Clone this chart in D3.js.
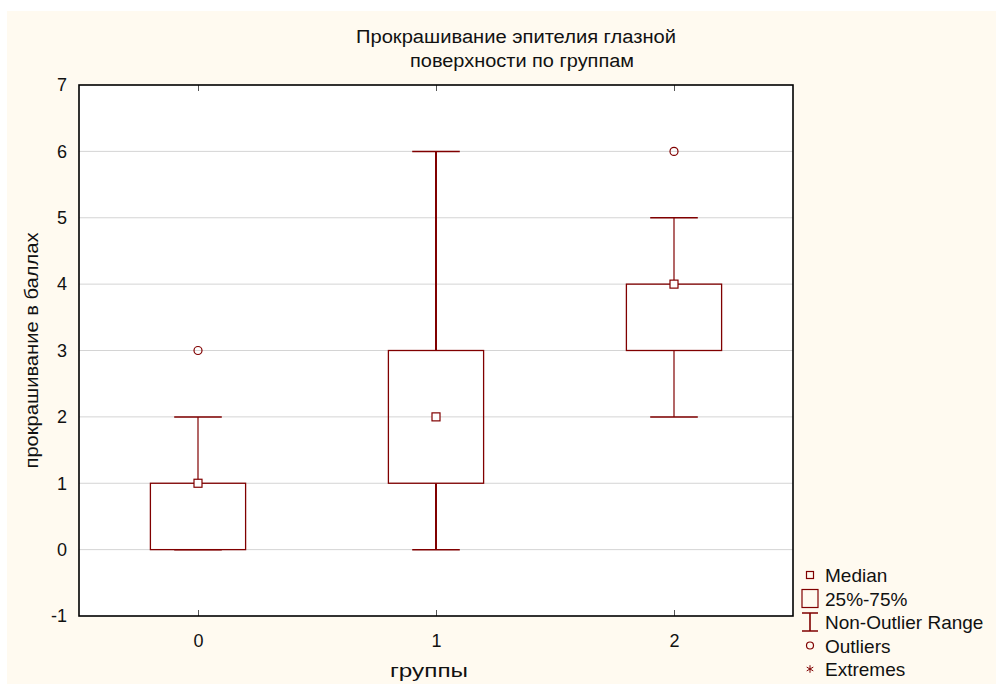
<!DOCTYPE html>
<html>
<head>
<meta charset="utf-8">
<script src="https://cdn.jsdelivr.net/npm/d3@7"></script>
<style>
	body { margin: 0; background: #fff; }
	text { font-family: "Liberation Sans", Arial, sans-serif; fill: #111; }
	.title { font-size: 18px; }
</style>
</head>
<body>
<svg id="chart" width="996" height="684"></svg>
<script>
const groups = [0, 1, 2];
const q1 = [0, 1, 3];
const medians = [1, 2, 4];
const q3 = [1, 3, 4];
const whiskerLow = [0, 0, 2];
const whiskerHigh = [2, 6, 5];
const outliers = [[3], [], [6]];
const yTicks = [-1, 0, 1, 2, 3, 4, 5, 6, 7];
const legendItems = ["Median", "25%-75%", "Non-Outlier Range", "Outliers", "Extremes"];

const color = "#800000";
const svg = d3.select("#chart");
const margin = { left: 79, top: 85, right: 203, bottom: 68 };
const width = 996 - margin.left - margin.right;
const height = 684 - margin.top - margin.bottom;

svg.append("rect")
	.attr("x", 7).attr("y", 11)
	.attr("width", 989).attr("height", 673)
	.attr("fill", "#fffaf0");

const x = d3.scaleLinear().domain([-0.5, 2.5]).range([margin.left, margin.left + width]);
const y = d3.scaleLinear().domain([-1, 7]).range([margin.top + height, margin.top]);

svg.append("rect")
	.attr("x", margin.left).attr("y", margin.top)
	.attr("width", width).attr("height", height)
	.attr("fill", "#fff");

// gridlines
svg.append("g")
	.selectAll("line")
	.data(yTicks.slice(1, -1))
	.join("line")
	.attr("x1", margin.left).attr("x2", margin.left + width)
	.attr("y1", d => y(d)).attr("y2", d => y(d))
	.attr("stroke", "#d4d4d4")
	.attr("stroke-width", 1);

// y axis labels
const yAxis = d3.axisLeft(y).tickValues(yTicks).tickSize(0).tickPadding(12).tickFormat(d => String(d));
svg.append("g")
	.attr("transform", `translate(${margin.left},0)`)
	.call(yAxis)
	.call(g => g.select(".domain").remove())
	.selectAll("text")
	.style("font-size", "18px")
	.style("font-family", "'Liberation Sans', Arial, sans-serif")
	.attr("fill", "#111");

// x axis
const xAxis = d3.axisBottom(x).tickValues(groups).tickSize(-6).tickPadding(18).tickFormat(d => String(d));
svg.append("g")
	.attr("transform", `translate(0,${margin.top + height})`)
	.call(xAxis)
	.call(g => g.select(".domain").remove())
	.call(g => g.selectAll("line").attr("stroke", "#555"))
	.selectAll("text")
	.style("font-size", "18px")
	.style("font-family", "'Liberation Sans', Arial, sans-serif")
	.attr("fill", "#111");

svg.append("g")
	.attr("transform", `translate(0,${margin.top})`)
	.call(d3.axisTop(x).tickValues(groups).tickSize(-6).tickFormat(""))
	.call(g => g.select(".domain").remove())
	.call(g => g.selectAll("line").attr("stroke", "#555"));

// boxes
const boxW = 0.4;
const capW = 0.2;
const box = svg.append("g")
	.selectAll("g")
	.data(groups)
	.join("g");

box.append("line")
	.attr("x1", d => x(d)).attr("x2", d => x(d))
	.attr("y1", (d, i) => y(whiskerHigh[i])).attr("y2", (d, i) => y(q3[i]))
	.attr("stroke", color).attr("stroke-width", (d, i) => i === 1 ? 2 : 1.2);
box.append("line")
	.attr("x1", d => x(d)).attr("x2", d => x(d))
	.attr("y1", (d, i) => y(q1[i])).attr("y2", (d, i) => y(whiskerLow[i]))
	.attr("stroke", color).attr("stroke-width", (d, i) => i === 1 ? 2 : 1.2);
box.append("line")
	.attr("x1", d => x(d - capW / 2)).attr("x2", d => x(d + capW / 2))
	.attr("y1", (d, i) => y(whiskerHigh[i])).attr("y2", (d, i) => y(whiskerHigh[i]))
	.attr("stroke", color).attr("stroke-width", 1.5);
box.append("line")
	.attr("x1", d => x(d - capW / 2)).attr("x2", d => x(d + capW / 2))
	.attr("y1", (d, i) => y(whiskerLow[i])).attr("y2", (d, i) => y(whiskerLow[i]))
	.attr("stroke", color).attr("stroke-width", 1.5);
box.append("rect")
	.attr("x", d => x(d - boxW / 2))
	.attr("width", x(boxW) - x(0))
	.attr("y", (d, i) => y(q3[i]))
	.attr("height", (d, i) => y(q1[i]) - y(q3[i]))
	.attr("fill", "none")
	.attr("stroke", color).attr("stroke-width", 1.3);
box.append("rect")
	.attr("x", d => x(d) - 4)
	.attr("y", (d, i) => y(medians[i]) - 4)
	.attr("width", 8).attr("height", 8)
	.attr("fill", "#fff")
	.attr("stroke", color).attr("stroke-width", 1.2);
box.selectAll("circle")
	.data((d, i) => outliers[i].map(v => ({ g: d, v })))
	.join("circle")
	.attr("cx", d => x(d.g))
	.attr("cy", d => y(d.v))
	.attr("r", 4)
	.attr("fill", "none")
	.attr("stroke", color).attr("stroke-width", 1.2);

// frame
svg.append("rect")
	.attr("x", margin.left).attr("y", margin.top)
	.attr("width", width).attr("height", height)
	.attr("fill", "none")
	.attr("stroke", "#000").attr("stroke-width", 1.6);

// titles
svg.append("text").attr("class", "title")
	.attr("x", 356).attr("y", 43)
	.attr("textLength", 320).attr("lengthAdjust", "spacingAndGlyphs")
	.text("Прокрашивание эпителия глазной");
svg.append("text").attr("class", "title")
	.attr("x", 410).attr("y", 67)
	.attr("textLength", 224).attr("lengthAdjust", "spacingAndGlyphs")
	.text("поверхности по группам");

svg.append("text")
	.attr("x", 390).attr("y", 677)
	.attr("textLength", 78).attr("lengthAdjust", "spacingAndGlyphs")
	.style("font-size", "18px")
	.text("группы");
svg.append("text")
	.attr("transform", `translate(38,${y(3) + 118}) rotate(-90)`)
	.attr("textLength", 236).attr("lengthAdjust", "spacingAndGlyphs")
	.style("font-size", "18px")
	.text("прокрашивание в баллах");

// legend
const legend = svg.append("g").attr("transform", "translate(810,0)");
const ly = d3.scalePoint().domain(legendItems).range([575, 669]);
legend.selectAll("text")
	.data(legendItems)
	.join("text")
	.attr("x", 15)
	.attr("y", d => ly(d) + 7)
	.style("font-size", "19px")
	.text(d => d);

legend.append("rect")
	.attr("x", -3.5).attr("y", ly("Median") - 3.5)
	.attr("width", 7).attr("height", 7)
	.attr("fill", "none").attr("stroke", color).attr("stroke-width", 1.2);
legend.append("rect")
	.attr("x", -8).attr("y", ly("25%-75%") - 9)
	.attr("width", 16).attr("height", 18)
	.attr("fill", "none").attr("stroke", color).attr("stroke-width", 1.2);
const nr = ly("Non-Outlier Range");
legend.append("path")
	.attr("d", `M-8,${nr - 9}H8M0,${nr - 9}V${nr + 9}M-8,${nr + 9}H8`)
	.attr("fill", "none").attr("stroke", color).attr("stroke-width", 1.6);
legend.append("circle")
	.attr("cx", 0).attr("cy", ly("Outliers"))
	.attr("r", 3.5)
	.attr("fill", "none").attr("stroke", color).attr("stroke-width", 1.2);
legend.append("path")
	.attr("transform", `translate(0,${ly("Extremes")})`)
	.attr("d", d3.symbol(d3.symbolAsterisk, 40)())
	.attr("fill", "none").attr("stroke", color).attr("stroke-width", 1);
</script>
</body>
</html>
